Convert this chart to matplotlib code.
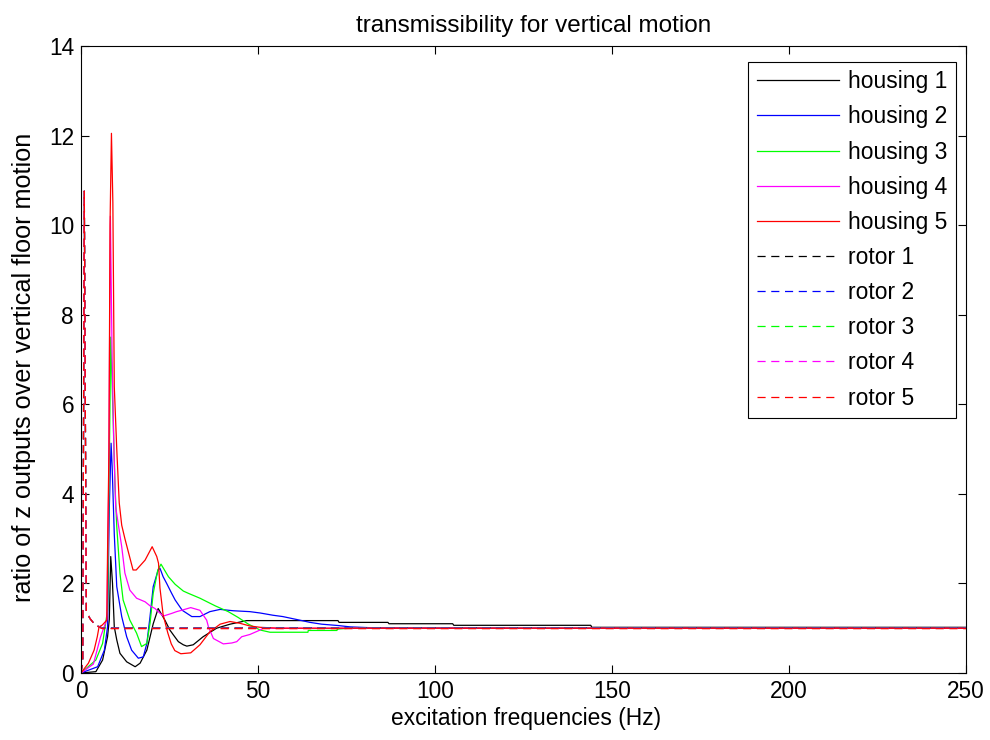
import matplotlib
matplotlib.use("Agg")
import matplotlib.pyplot as plt

plt.rcParams["font.family"] = ["Liberation Sans", "DejaVu Sans"]

# values (frequency in Hz, transmissibility ratio)
h1_f = [0, 4.2, 6.1, 7.5, 8.0, 8.4, 8.9, 9.4, 10.1, 11.0, 12.9, 15.3, 16.7, 18.6,
        20.4, 21.8, 23.7, 25.1, 26.1, 27.5, 28.9, 29.9, 31.7, 34.5, 38.3, 42.1,
        46.8, 72.6, 72.9, 86.7, 87.0, 105.0, 105.3, 144.0, 144.3, 250]
h1_v = [0, 0.03, 0.29, 0.81, 1.2, 2.6, 2.0, 1.03, 0.74, 0.44, 0.25, 0.14, 0.22, 0.51,
        1.1, 1.44, 1.18, 0.96, 0.85, 0.7, 0.63, 0.6, 0.63, 0.81, 1.0, 1.09,
        1.17, 1.17, 1.13, 1.13, 1.1, 1.1, 1.065, 1.065, 1.02, 1.02]

h2_f = [0, 4.7, 6.6, 7.5, 8.0, 8.5, 8.8, 9.4, 10.1, 11.5, 12.9, 14.3, 16.2, 17.6,
        18.6, 19.5, 20.4, 21.8, 22.3, 23.2, 24.2, 25.6, 26.6, 28.6, 31.3, 33.6,
        36.4, 39.3, 43.0, 47.7, 50.6, 54.2, 57.0, 60.0, 62.4, 64.7, 68.0, 72.6,
        76.0, 82.2, 170, 250]
h2_v = [0, 0.14, 0.51, 1.03, 3.7, 5.13, 4.6, 3.1, 1.93, 1.26, 0.81, 0.51, 0.33, 0.36,
        0.66, 1.26, 1.93, 2.3, 2.34, 2.15, 2.0, 1.78, 1.63, 1.4, 1.26, 1.26,
        1.37, 1.42, 1.39, 1.37, 1.34, 1.29, 1.26, 1.21, 1.17, 1.13, 1.09, 1.06,
        1.03, 1.01, 1.0, 1.0]

h3_f = [0, 4.2, 6.1, 7.5, 7.9, 8.4, 9.1, 9.6, 10.1, 11.0, 11.9, 13.8, 15.7, 17.1,
        18.6, 19.5, 20.4, 21.7, 22.6, 24.7, 26.6, 28.9, 30.3, 33.6, 37.9,
        41.6, 44.4, 47.3, 50.6, 53.4, 64.1, 64.2, 72.3, 72.4, 76.0, 250]
h3_v = [0, 0.29, 0.66, 1.4, 4.0, 7.5, 5.6, 4.2, 3.27, 2.23, 1.63, 1.18, 0.89, 0.59,
        0.66, 1.11, 1.78, 2.3, 2.43, 2.15, 1.98, 1.83, 1.78, 1.67, 1.5,
        1.37, 1.24, 1.09, 0.96, 0.91, 0.91, 0.95, 0.95, 0.98, 1.0, 1.0]

h4_f = [0, 3.5, 5.5, 7.3, 7.8, 8.3, 8.8, 9.3, 9.8, 11.5, 12.4, 13.8, 15.7, 18.1,
        19.5, 20.9, 23.2, 25.6, 27.0, 28.4, 31.0, 33.6, 35.5, 36.0, 37.4, 40.2,
        42.6, 44.0, 45.4, 47.7, 50.6, 51.4, 250]
h4_v = [0, 0.2, 0.8, 1.2, 4.0, 10.2, 7.0, 5.0, 3.7, 2.82, 2.23, 1.85, 1.67, 1.59,
        1.5, 1.44, 1.27, 1.33, 1.37, 1.4, 1.46, 1.4, 1.18, 1.03, 0.77, 0.65,
        0.67, 0.7, 0.81, 0.86, 0.96, 1.0, 1.0]

h5_f = [0, 2.1, 3.7, 4.6, 5.1, 6.0, 7.3, 7.5, 7.9, 8.2, 8.6, 9.0, 9.4, 10.1, 10.8,
        11.5, 12.4, 14.7, 15.6, 18.1, 20.1, 21.4, 21.9, 22.3, 23.2, 24.5, 25.5,
        26.5, 28.2, 31.0, 33.6, 36.4, 39.3, 42.1, 44.9, 47.7, 50.6, 56.0, 250]
h5_v = [0, 0.22, 0.51, 0.81, 1.03, 1.07, 1.18, 2.7, 5.0, 10.0, 12.05, 10.5, 6.4, 5.0, 3.8,
        3.3, 3.0, 2.3, 2.3, 2.52, 2.82, 2.6, 2.45, 1.9, 1.3, 0.9, 0.65,
        0.5, 0.43, 0.45, 0.63, 0.92, 1.09, 1.15, 1.11, 1.05, 1.02, 1.0, 1.0]

rotor_f = [0, 0.5, 0.93, 1.5, 2.5, 4.0, 6.0, 250]
rotor_v = {
    1: [0, 0.3, 10.76, 1.38, 1.22, 1.07, 1.01, 1.01],
    2: [0, 0.3, 10.76, 1.38, 1.22, 1.07, 1.0, 1.0],
    3: [0, 0.3, 10.76, 1.38, 1.22, 1.07, 1.0, 1.0],
    4: [0, 0.3, 10.76, 1.38, 1.22, 1.07, 1.0, 1.0],
    5: [0, 0.3, 10.76, 1.38, 1.22, 1.07, 0.99, 0.99],
}

colors = ["#000000", "#0000ff", "#00ff00", "#ff00ff", "#ff0000"]
housings = [(h1_f, h1_v), (h2_f, h2_v), (h3_f, h3_v), (h4_f, h4_v), (h5_f, h5_v)]

fig = plt.figure(figsize=(9.9, 7.4), dpi=100)
ax = fig.add_axes([81 / 990, 67 / 740, 885 / 990, 627 / 740])

for i, (f, v) in enumerate(housings):
    ax.plot(f, v, color=colors[i], lw=0.9, label=f"housing {i + 1}")
for i in range(5):
    ax.plot(rotor_f, rotor_v[i + 1], color=colors[i], lw=0.9, ls="--",
            dashes=(6.5, 4.5), label=f"rotor {i + 1}")

ax.set_xlim(0, 250)
ax.set_ylim(0, 14)
ax.set_xticks(range(0, 251, 50))
ax.set_yticks(range(0, 15, 2))
ax.tick_params(direction="in", length=6, width=0.8, labelsize=16.3, pad=5,
               top=True, right=True)
for s in ax.spines.values():
    s.set_linewidth(0.8)

ax.set_title("transmissibility for vertical motion", fontsize=17.5, pad=10, x=0.511)
ax.set_xlabel("excitation frequencies (Hz)", fontsize=16.4)
ax.xaxis.set_label_coords(0.5034, -0.054)
ax.set_ylabel("ratio of z outputs over vertical floor motion", fontsize=18.2)
ax.yaxis.set_label_coords(-0.051, 0.487)

leg = ax.legend(loc="upper right", bbox_to_anchor=(956 / 990, (740 - 62) / 740),
                bbox_transform=fig.transFigure, borderaxespad=0, fontsize=16.5,
                handlelength=3.6, handletextpad=0.4, labelspacing=0.53,
                borderpad=0.36, fancybox=False, framealpha=1)
leg.get_frame().set_edgecolor("k")
leg.get_frame().set_linewidth(0.8)

fig.savefig("out.png", dpi=100)
